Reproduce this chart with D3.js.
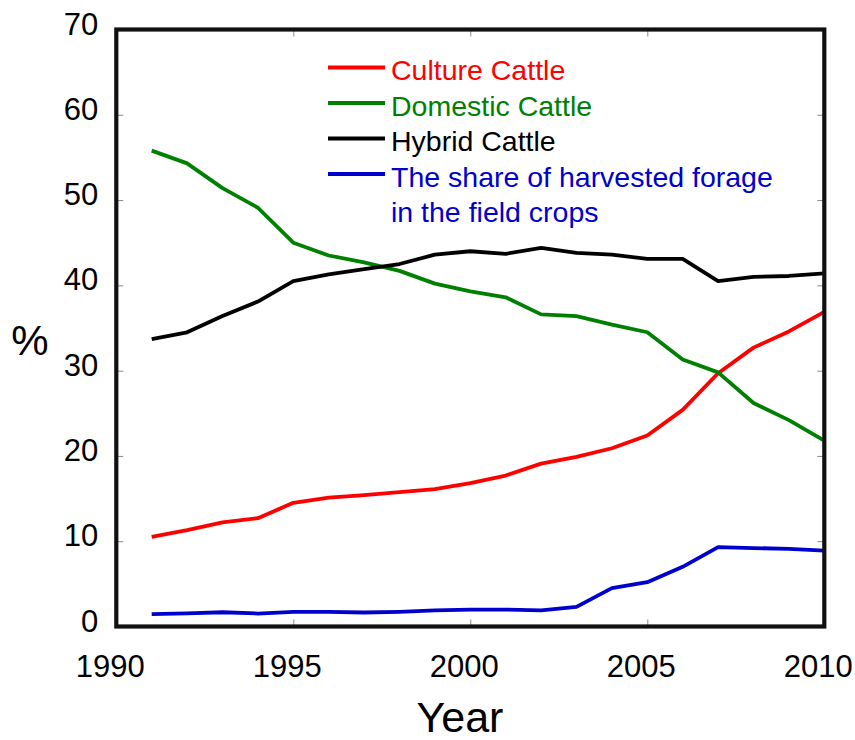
<!DOCTYPE html>
<html lang="en">
<head>
    <meta charset="UTF-8">
    <title>Cattle shares 1991-2010</title>
    <script src="https://d3js.org/d3.v7.min.js"></script>
    <style>
        body {
            margin: 0;
            padding: 0;
            background-color: #fff;
            font-family: Arial, 'Liberation Sans', Helvetica, sans-serif;
        }
        .tick line { stroke: #8c8c8c; stroke-width: 1px; }
        .series { fill: none; stroke-width: 3.8px; stroke-linejoin: round; }
    </style>
</head>
<body>
    <div id="chart"></div>

    <script>
        // --- data ---
        const years = [1991, 1992, 1993, 1994, 1995, 1996, 1997, 1998, 1999, 2000,
                       2001, 2002, 2003, 2004, 2005, 2006, 2007, 2008, 2009, 2010];

        const cultureCattle = [10.5, 11.3, 12.2, 12.7, 14.5, 15.1, 15.4, 15.75, 16.1, 16.8,
                               17.7, 19.1, 19.9, 20.9, 22.4, 25.4, 29.7, 32.7, 34.6, 36.9];

        const domesticCattle = [55.8, 54.3, 51.4, 49.1, 45.0, 43.5, 42.7, 41.7, 40.2, 39.3,
                                38.6, 36.6, 36.4, 35.4, 34.5, 31.3, 29.8, 26.2, 24.2, 21.8];

        const hybridCattle = [33.7, 34.5, 36.4, 38.1, 40.5, 41.3, 41.9, 42.5, 43.6, 44.0,
                              43.7, 44.4, 43.8, 43.6, 43.1, 43.1, 40.5, 41.0, 41.1, 41.4];

        const forageShare = [1.45, 1.55, 1.67, 1.52, 1.72, 1.72, 1.64, 1.72, 1.88, 1.98,
                             1.98, 1.9, 2.3, 4.5, 5.2, 7.0, 9.3, 9.2, 9.1, 8.9];

        const seriesNames = ["Culture Cattle", "Domestic Cattle", "Hybrid Cattle",
                             ["The share of harvested forage", "in the field crops"]];
        const seriesColors = ["#ff0000", "#008000", "#000000", "#0000cc"];
        const xTicks = [1990, 1995, 2000, 2005, 2010];
        const yTicks = [0, 10, 20, 30, 40, 50, 60, 70];

        const allSeries = [cultureCattle, domesticCattle, hybridCattle, forageShare];

        // --- layout ---
        const width = 855, height = 740;
        const plotLeft = 116.3, plotRight = 824.3, plotTop = 29.5, plotBottom = 626.5;

        const svg = d3.select("#chart").append("svg")
            .attr("width", width)
            .attr("height", height);

        const x = d3.scaleLinear().domain([1990, 2010]).range([plotLeft, plotRight]);
        const y = d3.scaleLinear().domain([0, 70]).range([plotBottom, plotTop]);

        // ticks on all four sides, pointing inward
        const tickLen = 7;
        function ticksOnly(g) {
            g.select(".domain").remove();
            g.selectAll("text").remove();
        }
        svg.append("g").attr("transform", `translate(0,${plotBottom})`)
            .call(d3.axisBottom(x).tickValues(xTicks).tickSize(-tickLen)).call(ticksOnly);
        svg.append("g").attr("transform", `translate(0,${plotTop})`)
            .call(d3.axisTop(x).tickValues(xTicks).tickSize(-tickLen)).call(ticksOnly);
        svg.append("g").attr("transform", `translate(${plotLeft},0)`)
            .call(d3.axisLeft(y).tickValues(yTicks).tickSize(-tickLen)).call(ticksOnly);
        svg.append("g").attr("transform", `translate(${plotRight},0)`)
            .call(d3.axisRight(y).tickValues(yTicks).tickSize(-tickLen)).call(ticksOnly);

        // tick labels
        svg.append("g").selectAll("text")
            .data(xTicks)
            .join("text")
            .attr("x", d => x(d) - 6)
            .attr("y", 676.5)
            .attr("text-anchor", "middle")
            .attr("font-size", 31)
            .attr("fill", "#000")
            .text(d => d);

        svg.append("g").selectAll("text")
            .data(yTicks)
            .join("text")
            .attr("x", plotLeft - 18)
            .attr("y", d => y(d) + 5)
            .attr("text-anchor", "end")
            .attr("font-size", 31)
            .attr("fill", "#000")
            .text(d => d);

        // axis titles
        svg.append("text")
            .attr("x", 460)
            .attr("y", 732)
            .attr("text-anchor", "middle")
            .attr("font-size", 43)
            .text("Year");

        svg.append("text")
            .attr("x", 30)
            .attr("y", 355)
            .attr("text-anchor", "middle")
            .attr("font-size", 42)
            .text("%");

        // lines
        const line = d3.line()
            .x((d, i) => x(years[i]))
            .y(d => y(d));

        svg.append("g").selectAll("path")
            .data(allSeries)
            .join("path")
            .attr("class", "series")
            .attr("stroke", (d, i) => seriesColors[i])
            .attr("d", line);

        // frame
        svg.append("rect")
            .attr("x", plotLeft)
            .attr("y", plotTop)
            .attr("width", plotRight - plotLeft)
            .attr("height", plotBottom - plotTop)
            .attr("fill", "none")
            .attr("stroke", "#111")
            .attr("stroke-width", 4.2);

        // legend
        const legend = svg.append("g").attr("transform", "translate(328,67.5)");
        const rowGap = 35.5;
        seriesNames.forEach((name, i) => {
            const row = legend.append("g").attr("transform", `translate(0,${i * rowGap})`);
            row.append("line")
                .attr("x1", 0).attr("x2", 57)
                .attr("y1", 0).attr("y2", 0)
                .attr("stroke", seriesColors[i])
                .attr("stroke-width", 3.8);
            const lines = Array.isArray(name) ? name : [name];
            const t = row.append("text")
                .attr("x", 63)
                .attr("y", 12.5)
                .attr("font-size", 28.5)
                .attr("fill", seriesColors[i]);
            lines.forEach((s, j) => {
                t.append("tspan")
                    .attr("x", 63)
                    .attr("dy", j === 0 ? 0 : 35)
                    .text(s);
            });
        });
    </script>
</body>
</html>
